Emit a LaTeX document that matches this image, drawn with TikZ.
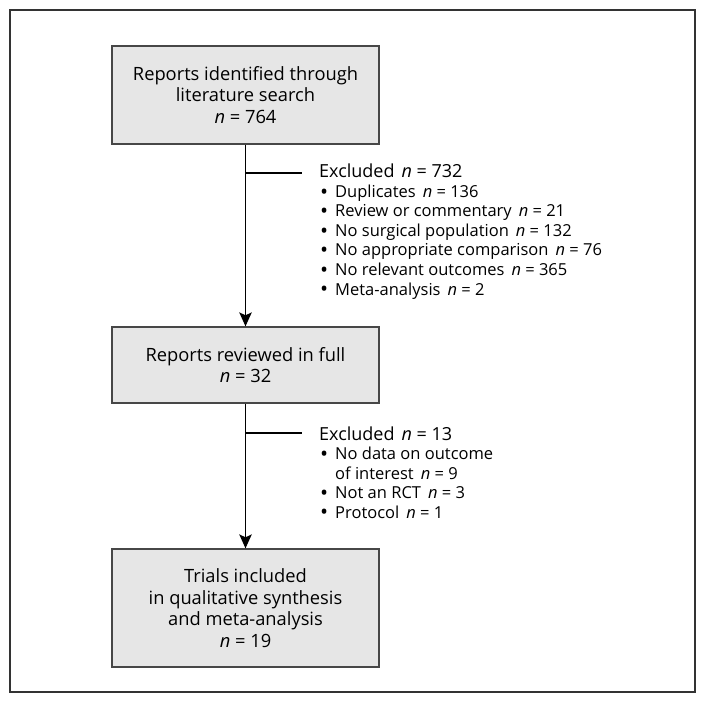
\documentclass[tikz,border=0pt]{standalone}
\usepackage{fontspec}
\setmainfont{Open Sans}
\usetikzlibrary{arrows.meta}
\definecolor{boxfill}{HTML}{E6E6E6}
\definecolor{boxline}{HTML}{474747}
\definecolor{frameline}{HTML}{333333}
\newcommand\blt{\makebox[16pt][l]{\hspace*{1pt}\raisebox{-1.8pt}[0pt][0pt]{\scalebox{1.3}{\textbullet}}}}
\newcommand\nn{\textit{n}}
\newcommand\gap{\hspace{7pt}}
\begin{document}
\begin{tikzpicture}[x=1pt,y=-1pt,
  stepbox/.style={draw=boxline, fill=boxfill, line width=1.3pt, minimum width=267pt,
    inner sep=0pt, align=center, font=\fontsize{18.3}{21.5}\selectfont},
  exlist/.style={anchor=base west, inner sep=0pt,
    font=\fontsize{16.5}{19.5}\selectfont},
  conn/.style={draw=black, line width=1.4pt},
  arr/.style={conn, -{Stealth[length=14pt,width=12.5pt,inset=3pt]}}
]
\useasboundingbox (0,0) rectangle (706,703);
\draw[frameline, line width=1.5pt] (10,10) rectangle (695,692);

\node[stepbox, minimum height=98pt] (b1) at (245.5,95)
  {Reports identified through\\literature search\\\nn{} = 764};
\node[stepbox, minimum height=76pt] (b2) at (245.5,365)
  {Reports reviewed in full\\\nn{} = 32};
\node[stepbox, minimum height=118pt] (b3) at (245.5,608)
  {Trials included\\in qualitative synthesis\\and meta-analysis\\\nn{} = 19};

\draw[arr] (b1.south) -- (b2.north);
\draw[arr] (b2.south) -- (b3.north);

\coordinate (j1) at (245.5,173);
\coordinate (e1) at (302,173);
\coordinate (j2) at (245.5,433);
\coordinate (e2) at (302,433);
\draw[conn] (j1) -- (e1);
\draw[conn] (j2) -- (e2);

\node[exlist] (h1) at (319,178) {\fontsize{18}{19.5}\selectfont Excluded\gap\nn{} = 732};
\node[exlist] (x1) at (319,197.5) {\begin{tabular}[t]{@{}l@{}}%
\blt Duplicates\gap\nn{} = 136\\
\blt Review or commentary\gap\nn{} = 21\\
\blt No surgical population\gap\nn{} = 132\\
\blt No appropriate comparison\gap\nn{} = 76\\
\blt No relevant outcomes\gap\nn{} = 365\\
\blt Meta-analysis\gap\nn{} = 2\end{tabular}};

\node[exlist] (h2) at (319,440) {\fontsize{18}{19.5}\selectfont Excluded\gap\nn{} = 13};
\node[exlist] (x2) at (319,459.5) {\begin{tabular}[t]{@{}l@{}}%
\blt No data on outcome\\
\hspace*{16pt}of interest\gap\nn{} = 9\\
\blt Not an RCT\gap\nn{} = 3\\
\blt Protocol\gap\nn{} = 1\end{tabular}};
\end{tikzpicture}
\end{document}
